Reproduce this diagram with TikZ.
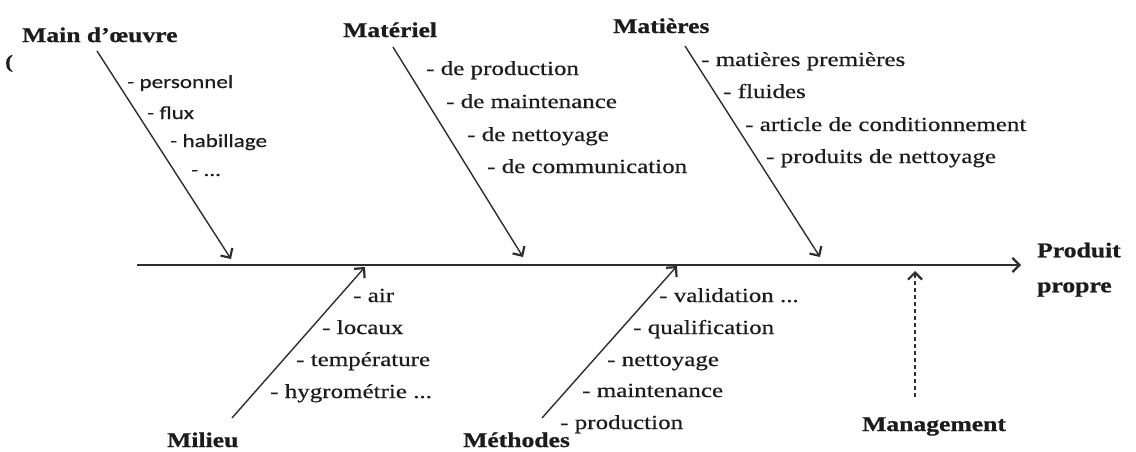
\documentclass[tikz,border=0pt]{standalone}
\usepackage{fontspec}
\setmainfont[FakeStretch=1.25]{Liberation Serif}
\newfontfamily\itemserif[FakeStretch=1.25, FakeBold=0.5]{Liberation Serif}
\newfontfamily\headserif[FakeStretch=1.22, FakeBold=0.8]{Liberation Serif Bold}
\newfontfamily\sanslist[FakeStretch=1.25, FakeBold=0.4]{Carlito}
\usetikzlibrary{arrows.meta}
\definecolor{ink}{HTML}{1C1C1C}
\definecolor{bonecol}{HTML}{2E2E2E}
\begin{document}
\begin{tikzpicture}[x=1pt,y=-1pt,
  head/.style={anchor=base west, inner sep=0pt, text=ink,
    font=\fontsize{21}{35}\selectfont\headserif},
  cause/.style={anchor=base west, inner sep=0pt, text=ink,
    font=\fontsize{20}{20}\selectfont\itemserif},
  causesans/.style={anchor=base west, inner sep=0pt, text=ink,
    font=\fontsize{18.5}{18.5}\selectfont\sanslist},
  bone/.style={draw=bonecol, line width=1.4pt,
    -{Straight Barb[length=7pt,width=14pt,line width=2.2pt]}},
  spinestyle/.style={bone, line width=1.6pt},
  mgmtstyle/.style={bone, line width=1.1pt, dash pattern=on 4pt off 3pt}
]
\fill[white] (0,0) rectangle (1136,451);
\useasboundingbox (0,0) rectangle (1136,451);

% main spine towards the effect
\coordinate (spineS) at (137,265);
\coordinate (spineT) at (1021,265);
\draw[spinestyle] (spineS) -- (spineT);
\node[head, anchor=north west, align=left] (effect) at (1037,242.5) {Produit\\propre};

% stray bracket at the left margin
\node[head, font=\fontsize{19}{19}\selectfont\headserif] (bracket) at (5,68) {(};

% Main d'oeuvre
\node[head] (main) at (22,42) {Main d’œuvre};
\coordinate (mainS) at (97,51);
\coordinate (mainT) at (231,259);
\draw[bone] (mainS) -- (mainT);
\node[causesans] (m1) at (127,88) {- personnel};
\node[causesans] (m2) at (147,119) {- flux};
\node[causesans] (m3) at (170,147) {- habillage};
\node[causesans] (m4) at (191,176) {- ...};

% Materiel
\node[head] (mat) at (343,37) {Matériel};
\coordinate (matS) at (393,47);
\coordinate (matT) at (523,257);
\draw[bone] (matS) -- (matT);
\node[cause] (t1) at (426,75) {- de production};
\node[cause] (t2) at (446,108) {- de maintenance};
\node[cause] (t3) at (467,141) {- de nettoyage};
\node[cause] (t4) at (487,173) {- de communication};

% Matieres
\node[head] (mati) at (613,33) {Matières};
\coordinate (matiS) at (685,46);
\coordinate (matiT) at (820,257);
\draw[bone] (matiS) -- (matiT);
\node[cause] (a1) at (701,66) {- matières premières};
\node[cause] (a2) at (723,98) {- fluides};
\node[cause] (a3) at (745,131) {- article de conditionnement};
\node[cause] (a4) at (766,163) {- produits de nettoyage};

% Milieu
\node[head] (mil) at (167,447) {Milieu};
\coordinate (milS) at (232,418);
\coordinate (milT) at (365,267);
\draw[bone] (milS) -- (milT);
\node[cause] (l1) at (353,302) {- air};
\node[cause] (l2) at (322,334) {- locaux};
\node[cause] (l3) at (296,366) {- température};
\node[cause] (l4) at (270,398) {- hygrométrie ...};

% Methodes
\node[head] (meth) at (463,447) {Méthodes};
\coordinate (methS) at (542,418);
\coordinate (methT) at (677,266);
\draw[bone] (methS) -- (methT);
\node[cause] (d1) at (659,302) {- validation ...};
\node[cause] (d2) at (633,334) {- qualification};
\node[cause] (d3) at (607,366) {- nettoyage};
\node[cause] (d4) at (582,397) {- maintenance};
\node[cause] (d5) at (560,429) {- production};

% Management (dashed influence)
\node[head] (mgmt) at (862,431) {Management};
\coordinate (mgmtS) at (915,397);
\coordinate (mgmtT) at (915,271);
\draw[mgmtstyle] (mgmtS) -- (mgmtT);
\end{tikzpicture}
\end{document}
